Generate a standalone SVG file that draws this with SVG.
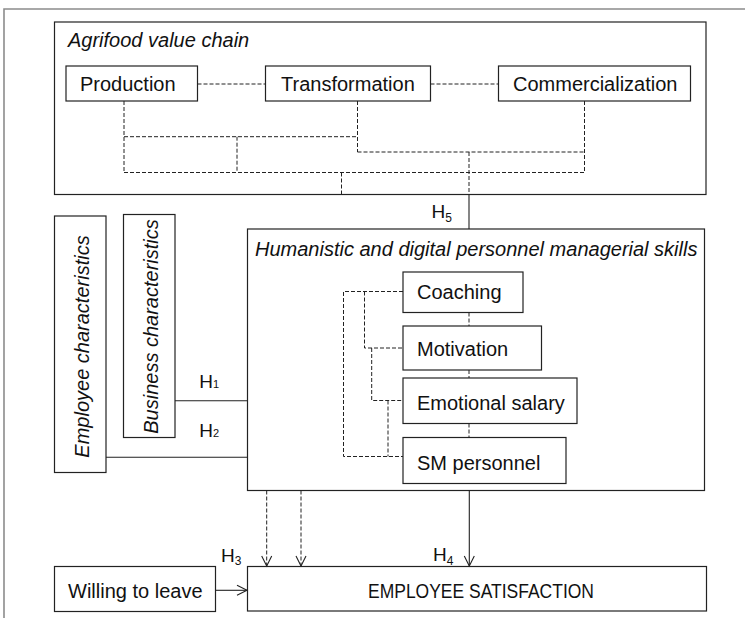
<svg xmlns="http://www.w3.org/2000/svg" width="745" height="618" viewBox="0 0 745 618">
<style>
  .box { fill: #fff; stroke: #222; stroke-width: 1.2; }
  .t { font-family: "Liberation Sans", Arial, sans-serif; font-size: 20px; fill: #111; }
  .it { font-style: italic; }
  .h { font-family: "Liberation Sans", Arial, sans-serif; font-size: 19px; fill: #111; }
  .sub { font-size: 12px; }
  .dash { fill: none; stroke: #222; stroke-width: 1; stroke-dasharray: 4 2; }
  .solid { fill: none; stroke: #222; stroke-width: 1.1; }
  .frame { fill: none; stroke: #8c8c8c; stroke-width: 1.6; }
</style>
<defs>
  <marker id="arr" viewBox="-12 -7 14 14" markerWidth="14" markerHeight="14" refX="0" refY="0" orient="auto" markerUnits="userSpaceOnUse">
    <path d="M-10,-5 L0,0 L-10,5" fill="none" stroke="#222" stroke-width="1.1" stroke-dasharray="none"/>
  </marker>
</defs>
<rect width="745" height="618" fill="#fff"/>
<path class="frame" d="M4,618 V9 H745"/>

<g id="agrifood">
  <rect class="box" x="54.5" y="22" width="651.5" height="172.5"/>
  <text class="t it" x="68" y="47">Agrifood value chain</text>
</g>
<g id="production">
  <rect class="box" x="66" y="66" width="131.5" height="35"/>
  <text class="t" x="80" y="91">Production</text>
</g>
<g id="transformation">
  <rect class="box" x="265.5" y="66" width="165" height="35"/>
  <text class="t" x="281" y="91">Transformation</text>
</g>
<g id="commercialization">
  <rect class="box" x="498.5" y="66" width="192" height="35"/>
  <text class="t" x="513" y="91">Commercialization</text>
</g>
<g id="humanistic">
  <rect class="box" x="247.5" y="229" width="457" height="261.5"/>
  <text class="t it" x="255" y="256">Humanistic and digital personnel managerial skills</text>
</g>
<g id="coaching">
  <rect class="box" x="403" y="272" width="120" height="40.5"/>
  <text class="t" x="417" y="299">Coaching</text>
</g>
<g id="motivation">
  <rect class="box" x="403" y="326" width="138.5" height="44"/>
  <text class="t" x="417" y="355.5">Motivation</text>
</g>
<g id="emotional-salary">
  <rect class="box" x="403" y="378" width="174" height="45.5"/>
  <text class="t" x="417" y="409.5">Emotional salary</text>
</g>
<g id="sm-personnel">
  <rect class="box" x="403" y="437.5" width="163" height="46"/>
  <text class="t" x="417" y="469.5">SM personnel</text>
</g>
<g id="employee-characteristics">
  <rect class="box" x="54.5" y="216" width="51.5" height="256.5"/>
  <text class="t it" transform="translate(88.5,346.5) rotate(-90)" text-anchor="middle" font-size="19.5">Employee characteristics</text>
</g>
<g id="business-characteristics">
  <rect class="box" x="123.5" y="214.5" width="51.5" height="223"/>
  <text class="t it" transform="translate(157.5,326.5) rotate(-90)" text-anchor="middle" font-size="19.5">Business characteristics</text>
</g>
<g id="willing-to-leave">
  <rect class="box" x="54.5" y="566.5" width="161" height="45"/>
  <text class="t" x="68" y="597.5">Willing to leave</text>
</g>
<g id="employee-satisfaction">
  <rect class="box" x="247.5" y="566.5" width="459" height="44.5"/>
  <text class="t" x="368" y="597.5" textLength="226" lengthAdjust="spacingAndGlyphs">EMPLOYEE SATISFACTION</text>
</g>

<g id="connectors">
  <!-- value chain -->
  <path class="dash" d="M197.5,84 H265.5 M430.5,84 H498.5"/>
  <path class="dash" d="M124,101 V172.5 M357.5,101 V152 M584.5,101 V172.5"/>
  <path class="dash" d="M124,136.7 H357.5 M357.5,152 H584.5 M237,136.7 V172.5 M124,172.5 H584.5"/>
  <path class="dash" d="M341.5,172.5 V194.5 M469,152 V194.5"/>
  <path class="solid" d="M469,194.5 V229"/>
  <!-- skills bracket -->
  <path class="dash" d="M403,291.5 H343.5 V456.5 H403 M364.5,291.5 V348 H403 M371.7,348 V400.5 H403 M388,400.5 V456.5"/>
  <path class="dash" d="M469,312.5 V326 M469,370 V378 M469,423.5 V437.5"/>
  <!-- characteristics -->
  <path class="solid" d="M175,400.7 H247.5 M106,457.3 H247.5"/>
  <!-- to satisfaction -->
  <path class="dash" d="M266.7,490.5 V566" marker-end="url(#arr)"/>
  <path class="dash" d="M301,490.5 V566" marker-end="url(#arr)"/>
  <path class="solid" d="M469.3,490.5 V566" marker-end="url(#arr)"/>
  <path class="solid" d="M215.5,590.3 H247" marker-end="url(#arr)"/>
</g>

<g id="labels">
  <text class="h" x="431.5" y="217.7">H<tspan class="sub" dy="3.8">5</tspan></text>
  <text class="h" x="199.3" y="388">H<tspan font-size="11">1</tspan></text>
  <text class="h" x="199.3" y="437">H<tspan font-size="11">2</tspan></text>
  <text class="h" x="221" y="561.5">H<tspan class="sub" dy="3.5">3</tspan></text>
  <text class="h" x="433" y="560.7">H<tspan class="sub" dy="3.8">4</tspan></text>
</g>
</svg>
